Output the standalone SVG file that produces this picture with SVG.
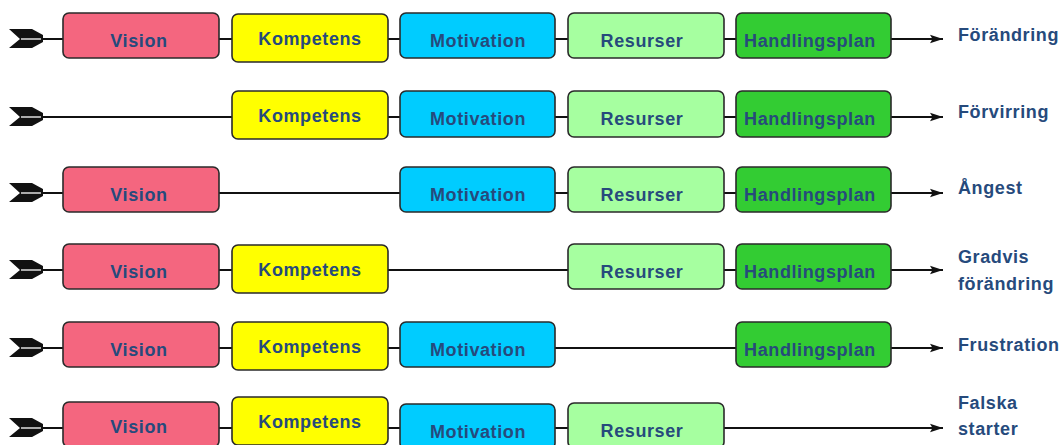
<svg xmlns="http://www.w3.org/2000/svg" xmlns:xlink="http://www.w3.org/1999/xlink" width="1063" height="445" viewBox="0 0 1063 445">
<style>
.bx{stroke:#2a2a2a;stroke-width:1.6}
.v{fill:#f4667f}.k{fill:#ffff00}.m{fill:#00ccff}.r{fill:#a6ffa0}.h{fill:#33cc33}
.t{font-family:"Liberation Sans",Arial,sans-serif;font-weight:bold;font-size:18px;letter-spacing:0.6px;fill:#264a7c;text-anchor:middle}
.lb{font-family:"Liberation Sans",Arial,sans-serif;font-weight:bold;font-size:18px;letter-spacing:0.6px;fill:#264a7c}
.ln{stroke:#111;stroke-width:2.2;fill:none}
</style>
<defs>
<marker id="ah" markerUnits="userSpaceOnUse" markerWidth="14" markerHeight="10" refX="13" refY="5" orient="auto">
<path d="M0,0.8 L13,5 L0,9.2 L2.5,5 Z" fill="#111"/>
</marker>
<g id="tail">
<path d="M9,-10 L32,-10 L43,-4 L43,3 L32,9 L9,9 L20,0 Z" fill="#111"/>
<path d="M21,0 L41,0" stroke="#fff" stroke-width="1.3"/>
</g>
</defs>

<g id="connectors">
<line class="ln" x1="42" y1="39" x2="943" y2="39" marker-end="url(#ah)"/>
<line class="ln" x1="42" y1="117" x2="943" y2="117" marker-end="url(#ah)"/>
<line class="ln" x1="42" y1="193" x2="943" y2="193" marker-end="url(#ah)"/>
<line class="ln" x1="42" y1="270" x2="943" y2="270" marker-end="url(#ah)"/>
<line class="ln" x1="42" y1="348" x2="943" y2="348" marker-end="url(#ah)"/>
<line class="ln" x1="42" y1="428" x2="943" y2="428" marker-end="url(#ah)"/>
<use xlink:href="#tail" href="#tail" transform="translate(0,39)"/>
<use xlink:href="#tail" href="#tail" transform="translate(0,117)"/>
<use xlink:href="#tail" href="#tail" transform="translate(0,193)"/>
<use xlink:href="#tail" href="#tail" transform="translate(0,270)"/>
<use xlink:href="#tail" href="#tail" transform="translate(0,348)"/>
<use xlink:href="#tail" href="#tail" transform="translate(0,428)"/>
</g>

<!-- Row 1 -->
<g id="r1-vision"><rect class="bx v" x="63" y="13" width="156" height="45" rx="6"/><text class="t" x="139" y="47">Vision</text></g>
<g id="r1-kompetens"><rect class="bx k" x="232" y="14" width="156" height="48" rx="6"/><text class="t" x="310" y="45">Kompetens</text></g>
<g id="r1-motivation"><rect class="bx m" x="400" y="13" width="155" height="45" rx="6"/><text class="t" x="478" y="47">Motivation</text></g>
<g id="r1-resurser"><rect class="bx r" x="568" y="13" width="156" height="45" rx="6"/><text class="t" x="642" y="47">Resurser</text></g>
<g id="r1-handlingsplan"><rect class="bx h" x="736" y="13" width="155" height="45" rx="6"/><text class="t" x="810" y="47">Handlingsplan</text></g>
<text class="lb" x="958" y="41">Förändring</text>

<!-- Row 2 -->
<g id="r2-kompetens"><rect class="bx k" x="232" y="91" width="156" height="48" rx="6"/><text class="t" x="310" y="122">Kompetens</text></g>
<g id="r2-motivation"><rect class="bx m" x="400" y="91" width="155" height="46" rx="6"/><text class="t" x="478" y="125">Motivation</text></g>
<g id="r2-resurser"><rect class="bx r" x="568" y="91" width="156" height="46" rx="6"/><text class="t" x="642" y="125">Resurser</text></g>
<g id="r2-handlingsplan"><rect class="bx h" x="736" y="91" width="155" height="46" rx="6"/><text class="t" x="810" y="125">Handlingsplan</text></g>
<text class="lb" x="958" y="118">Förvirring</text>

<!-- Row 3 -->
<g id="r3-vision"><rect class="bx v" x="63" y="167" width="156" height="45" rx="6"/><text class="t" x="139" y="201">Vision</text></g>
<g id="r3-motivation"><rect class="bx m" x="400" y="167" width="155" height="45" rx="6"/><text class="t" x="478" y="201">Motivation</text></g>
<g id="r3-resurser"><rect class="bx r" x="568" y="167" width="156" height="45" rx="6"/><text class="t" x="642" y="201">Resurser</text></g>
<g id="r3-handlingsplan"><rect class="bx h" x="736" y="167" width="155" height="45" rx="6"/><text class="t" x="810" y="201">Handlingsplan</text></g>
<text class="lb" x="958" y="194">Ångest</text>

<!-- Row 4 -->
<g id="r4-vision"><rect class="bx v" x="63" y="244" width="156" height="45" rx="6"/><text class="t" x="139" y="278">Vision</text></g>
<g id="r4-kompetens"><rect class="bx k" x="232" y="245" width="156" height="48" rx="6"/><text class="t" x="310" y="276">Kompetens</text></g>
<g id="r4-resurser"><rect class="bx r" x="568" y="244" width="156" height="45" rx="6"/><text class="t" x="642" y="278">Resurser</text></g>
<g id="r4-handlingsplan"><rect class="bx h" x="736" y="244" width="155" height="45" rx="6"/><text class="t" x="810" y="278">Handlingsplan</text></g>
<text class="lb" x="958" y="263">Gradvis</text>
<text class="lb" x="958" y="290">förändring</text>

<!-- Row 5 -->
<g id="r5-vision"><rect class="bx v" x="63" y="322" width="156" height="45" rx="6"/><text class="t" x="139" y="356">Vision</text></g>
<g id="r5-kompetens"><rect class="bx k" x="232" y="322" width="156" height="48" rx="6"/><text class="t" x="310" y="353">Kompetens</text></g>
<g id="r5-motivation"><rect class="bx m" x="400" y="322" width="155" height="45" rx="6"/><text class="t" x="478" y="356">Motivation</text></g>
<g id="r5-handlingsplan"><rect class="bx h" x="736" y="322" width="155" height="45" rx="6"/><text class="t" x="810" y="356">Handlingsplan</text></g>
<text class="lb" x="958" y="351">Frustration</text>

<!-- Row 6 -->
<g id="r6-vision"><rect class="bx v" x="63" y="402" width="156" height="45" rx="6"/><text class="t" x="139" y="433">Vision</text></g>
<g id="r6-kompetens"><rect class="bx k" x="232" y="397" width="156" height="48" rx="6"/><text class="t" x="310" y="428">Kompetens</text></g>
<g id="r6-motivation"><rect class="bx m" x="400" y="404" width="155" height="45" rx="6"/><text class="t" x="478" y="438">Motivation</text></g>
<g id="r6-resurser"><rect class="bx r" x="568" y="403" width="156" height="45" rx="6"/><text class="t" x="642" y="437">Resurser</text></g>
<text class="lb" x="958" y="409">Falska</text>
<text class="lb" x="958" y="435">starter</text>
</svg>
